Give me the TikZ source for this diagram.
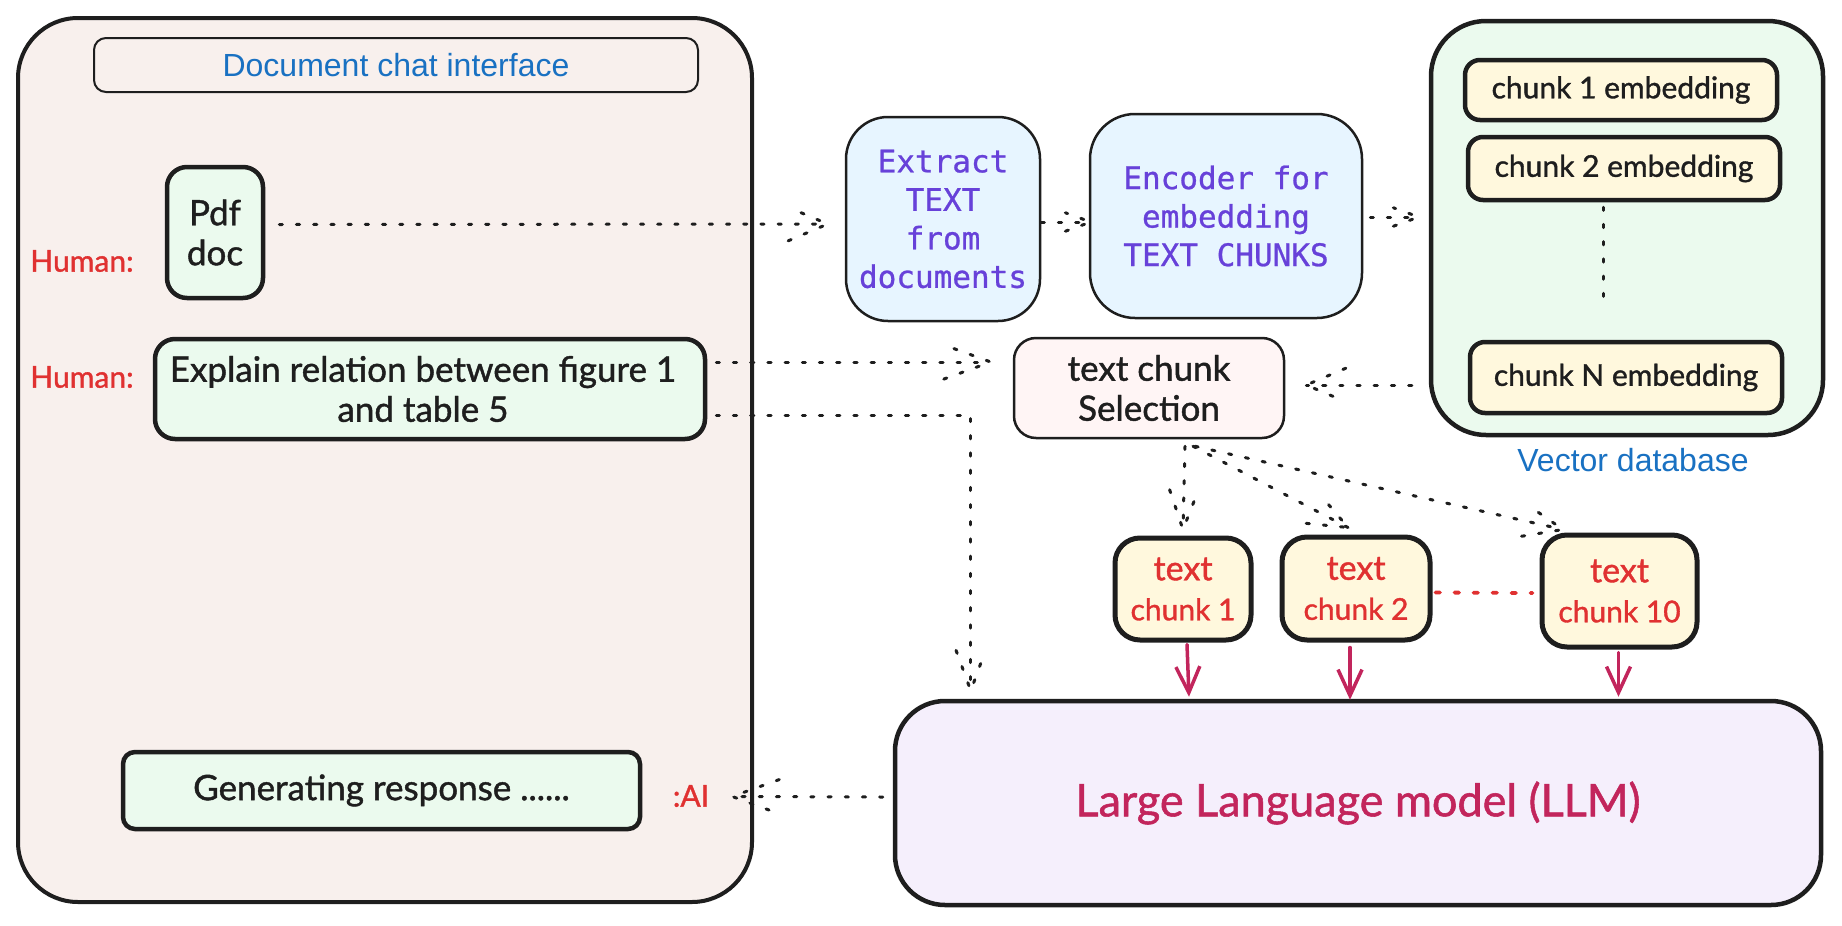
\documentclass[tikz,border=0pt]{standalone}
\usepackage{fontspec}
\setmainfont{Lato}
\newfontfamily\dghand[FakeBold=1.2]{Lato}
\newfontfamily\dgsans{Liberation Sans}
\newfontfamily\dgmono[FakeBold=0.8]{DejaVu Sans Mono}
\usetikzlibrary{calc,arrows.meta}
\definecolor{ink}{HTML}{1E1E1E}
\definecolor{panelfill}{HTML}{F8F0ED}
\definecolor{greenfill}{HTML}{EBFAEE}
\definecolor{bluefill}{HTML}{E7F5FF}
\definecolor{pinkfill}{HTML}{FFF5F5}
\definecolor{yellowfill}{HTML}{FFF8DD}
\definecolor{lavfill}{HTML}{F5EFFC}
\definecolor{titleblue}{HTML}{1971C2}
\definecolor{monoviolet}{HTML}{6741D9}
\definecolor{hred}{HTML}{E03131}
\definecolor{crimson}{HTML}{C2255C}
\tikzset{
  boxbase/.style={draw=ink, rectangle, inner sep=0pt, align=center},
  hand/.style={font=\dghand\fontsize{35}{40}\selectfont, text=ink},
  handsm/.style={font=\dghand\fontsize{30}{40}\selectfont, text=ink},
  mono/.style={font=\dgmono\fontsize{31}{38.5}\selectfont, text=monoviolet},
  redlabel/.style={font=\dghand\fontsize{30}{36}\selectfont, text=hred, inner sep=0pt},
  dotc/.style={draw=ink, line width=3pt, line cap=round, dash pattern=on 3.2pt off 14pt},
  reddots/.style={draw=hred, line width=3.8pt, line cap=round, dash pattern=on 4.5pt off 14.5pt},
  llmarrow/.style={draw=crimson, line width=3.5pt, line cap=round, -{Straight Barb[length=26pt,width=24pt,line width=3.5pt]}},
}
\newcommand\dgchev[4]{%
  \draw[dotc] ($(#1)!#3!#4:(#2)$) -- (#1) -- ($(#1)!#3!-#4:(#2)$);%
}
\begin{document}
\begin{tikzpicture}[x=1pt,y=-1pt]
\useasboundingbox (0,0) rectangle (1842,926);

% ---- left panel ----
\node[boxbase, fill=panelfill, line width=4pt, rounded corners=60pt,
      minimum width=734pt, minimum height=884pt] (panel) at (385,460) {};
\node[boxbase, line width=2pt, rounded corners=12pt, minimum width=604pt, minimum height=54pt,
      font=\dgsans\fontsize{32}{38}\selectfont, text=titleblue] (title) at (396,65) {Document chat interface};
\node[boxbase, hand, fill=greenfill, line width=4.5pt, rounded corners=20pt,
      minimum width=96pt, minimum height=131pt] (pdf) at (215,232.5) {Pdf\\doc};
\node[redlabel] (human1) at (82,261) {Human:};
\node[redlabel] (human2) at (82,377) {Human:};
\node[boxbase, hand, fill=greenfill, line width=4.5pt, rounded corners=20pt,
      minimum width=550pt, minimum height=100pt] (explain) at (430,389)
      {Explain relation between figure 1\hspace*{14pt}\\and table 5\hspace*{14pt}};
\node[boxbase, hand, fill=greenfill, line width=4.5pt, rounded corners=12pt,
      minimum width=517pt, minimum height=77pt] (gen) at (381.5,790.5) {Generating response ......};
\node[redlabel] (ai) at (691,796) {:AI};

% ---- processing boxes ----
\node[boxbase, mono, fill=bluefill, line width=2.5pt, rounded corners=42pt,
      minimum width=194pt, minimum height=204pt] (extract) at (943,219) {Extract\\TEXT\\from\\documents};
\node[boxbase, mono, fill=bluefill, line width=2.5pt, rounded corners=45pt,
      minimum width=272pt, minimum height=204pt] (encoder) at (1226,216) {Encoder for\\embedding\\TEXT CHUNKS};
\node[boxbase, hand, fill=pinkfill, line width=2.5pt, rounded corners=22pt,
      minimum width=270pt, minimum height=100pt] (selection) at (1149,388) {text chunk\\Selection};

% ---- vector database ----
\node[boxbase, fill=greenfill, line width=4.5pt, rounded corners=55pt,
      minimum width=392pt, minimum height=414pt] (vecdb) at (1627,228) {};
\node[boxbase, handsm, fill=yellowfill, line width=4.5pt, rounded corners=15pt,
      minimum width=312pt, minimum height=60pt] (emb1) at (1621,90) {chunk 1 embedding};
\node[boxbase, handsm, fill=yellowfill, line width=4.5pt, rounded corners=15pt,
      minimum width=312pt, minimum height=63pt] (emb2) at (1624,168.5) {chunk 2 embedding};
\node[boxbase, handsm, fill=yellowfill, line width=4.5pt, rounded corners=15pt,
      minimum width=312pt, minimum height=71pt] (embN) at (1626,377.5) {chunk N embedding};
\node[font=\dgsans\fontsize{32}{38}\selectfont, text=titleblue, inner sep=0pt] (vlabel) at (1633,460) {Vector database};

% ---- text chunks ----
\node[boxbase, handsm, text=hred, fill=yellowfill, line width=5pt, rounded corners=25pt,
      minimum width=136pt, minimum height=102pt] (tc1) at (1183,589) {{\fontsize{34}{40}\selectfont text}\\chunk 1};
\node[boxbase, handsm, text=hred, fill=yellowfill, line width=5pt, rounded corners=25pt,
      minimum width=148pt, minimum height=103pt] (tc2) at (1356,588.5) {{\fontsize{34}{40}\selectfont text}\\chunk 2};
\node[boxbase, handsm, text=hred, fill=yellowfill, line width=5pt, rounded corners=25pt,
      minimum width=155pt, minimum height=112pt] (tc10) at (1619.5,591) {{\fontsize{34}{40}\selectfont text}\\chunk 10};

% ---- LLM ----
\node[boxbase, fill=lavfill, line width=4.5pt, rounded corners=50pt,
      minimum width=926pt, minimum height=204pt, font=\dghand\fontsize{45}{52}\selectfont, text=crimson]
      (llm) at (1358,803) {Large Language model (LLM)};

% ---- connectors ----
% pdf -> extract
\coordinate (a1s) at ($(pdf.east)+(14,-8)$);
\coordinate (a1t) at ($(extract.west)+(-17,5)$);
\draw[dotc] (a1s) -- (a1t);
\dgchev{a1t}{a1s}{43pt}{23}
% extract -> encoder
\coordinate (a2s) at ($(extract.east)+(0,3)$);
\coordinate (a2t) at ($(encoder.west)+(2,6)$);
\draw[dotc] (a2s) -- (a2t);
\dgchev{a2t}{a2s}{27pt}{20}
% encoder -> vector db
\coordinate (a3s) at ($(encoder.east)+(7,1)$);
\coordinate (a3t) at ($(vecdb.west)+(-10,-11)$);
\draw[dotc] (a3s) -- (a3t);
\dgchev{a3t}{a3s}{27pt}{20}
% explain -> selection
\coordinate (a4s) at ($(explain.east)+(9,-27)$);
\coordinate (a4t) at ($(selection.west)+(-22,-26)$);
\draw[dotc] (a4s) -- (a4t);
\dgchev{a4t}{a4s}{50pt}{20}
% explain -> llm
\coordinate (a5s) at ($(explain.east)+(9,26)$);
\coordinate (a5t) at ($(llm.north west)+(78,-8)$);
\coordinate (a5b) at ($(a5t)+(0,-80)$);
\draw[dotc] (a5s) -| (a5t);
\dgchev{a5t}{a5b}{43pt}{20}
% vector db -> selection
\coordinate (a6s) at ($(vecdb.west)+(-17,157)$);
\coordinate (a6t) at ($(selection.east)+(21,-3)$);
\draw[dotc] (a6s) -- (a6t);
\dgchev{a6t}{a6s}{43pt}{23}
% selection -> text chunks
\coordinate (a7s) at ($(selection.south)+(36,7)$);
\coordinate (a7t) at ($(tc1.north)+(0,-6)$);
\draw[dotc] (a7s) -- (a7t);
\dgchev{a7t}{a7s}{42pt}{20}
\coordinate (a8s) at ($(selection.south)+(44,7)$);
\coordinate (a8t) at ($(tc2.north)+(-8,-7)$);
\draw[dotc] (a8s) -- (a8t);
\dgchev{a8t}{a8s}{42pt}{22}
\coordinate (a9s) at ($(selection.south)+(46,7)$);
\coordinate (a9t) at ($(tc10.north)+(-56.5,-3)$);
\draw[dotc] (a9s) -- (a9t);
\dgchev{a9t}{a9s}{42pt}{22}
% llm -> AI
\coordinate (a10s) at ($(llm.west)+(-10,-6)$);
\coordinate (a10t) at ($(gen.east)+(90,6)$);
\draw[dotc] (a10s) -- (a10t);
\dgchev{a10t}{a10s}{50pt}{20}
% text chunks -> llm
\draw[llmarrow] ($(tc1.south)+(4,2)$) -- ($(tc1.south |- llm.north)+(6,-2)$);
\draw[llmarrow] ($(tc2.south)+(-6,5)$) -- ($(tc2.south |- llm.north)+(-6,1)$);
\draw[llmarrow] ($(tc10.south)+(-1,3)$) -- ($(tc10.south |- llm.north)+(-1,-2)$);
% red dotted link between chunk 2 and chunk 10
\draw[reddots] ($(tc2.east)+(3,4)$) -- ($(tc10.west)+(-7,2)$);
% vertical dots inside vector database
\draw[dotc] ($(emb2.south)+(-21,5)$) -- ($(embN.north)+(-23,-32)$);
\end{tikzpicture}
\end{document}
